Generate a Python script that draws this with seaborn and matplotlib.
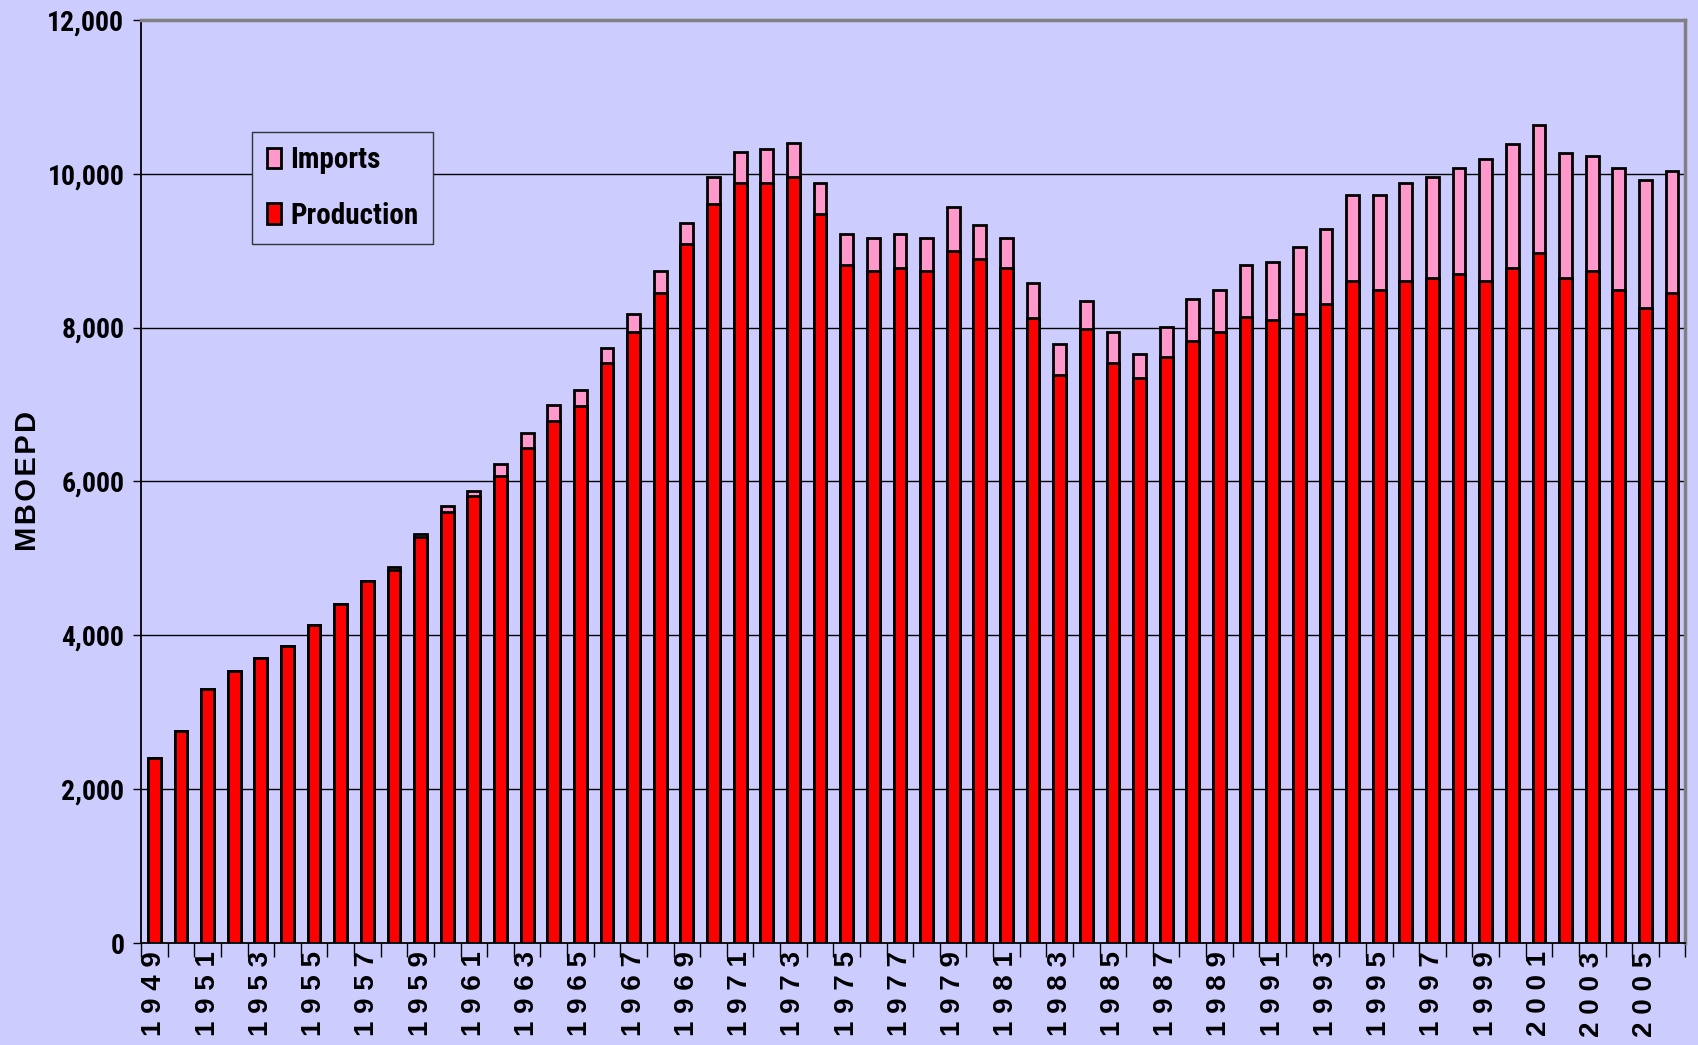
import numpy as np
import pandas as pd
import matplotlib
matplotlib.use('Agg')
import matplotlib.pyplot as plt
from matplotlib import font_manager
from matplotlib.patches import Patch
from matplotlib.patheffects import AbstractPathEffect
from matplotlib.transforms import Affine2D
import seaborn as sns

years = list(range(1949, 2007))

production = [2400, 2750, 3300, 3540, 3700, 3860, 4140, 4410, 4700, 4850,
              5280, 5600, 5810, 6070, 6430, 6790, 6980, 7540, 7940, 8450,
              9090, 9600, 9880, 9880, 9960, 9480, 8810, 8730, 8770, 8730,
              9000, 8890, 8770, 8130, 7380, 7980, 7540, 7340, 7620, 7820,
              7940, 8140, 8100, 8180, 8300, 8610, 8490, 8610, 8650, 8690,
              8610, 8770, 8970, 8650, 8730, 8490, 8260, 8450]

imports = [0, 0, 0, 0, 0, 0, 0, 0, 0, 40,
           40, 80, 70, 160, 200, 200, 210, 200, 230, 280,
           270, 360, 400, 440, 440, 400, 400, 440, 440, 440,
           570, 440, 400, 450, 400, 360, 400, 320, 390, 550,
           550, 670, 750, 870, 980, 1110, 1230, 1270, 1310, 1380,
           1580, 1620, 1660, 1620, 1500, 1580, 1660, 1580]

y_ticks = [0, 2000, 4000, 6000, 8000, 10000, 12000]

bg = '#CCCCFF'
red = '#FF0000'
pink = '#FF99CC'


# squeeze glyphs sideways to look like a narrow face, used only if no narrow font is found
class Squash(AbstractPathEffect):
    def __init__(self, sx=0.82, anchor='left'):
        super().__init__()
        self.sx = sx
        self.anchor = anchor

    def draw_path(self, renderer, gc, tpath, affine, rgbFace=None):
        v = tpath.vertices
        if len(v) == 0:
            return
        lo, hi = v[:, 0].min(), v[:, 0].max()
        x0 = {'left': lo, 'right': hi, 'center': (lo + hi) / 2}[self.anchor]
        t = Affine2D().translate(-x0, 0).scale(self.sx, 1).translate(x0, 0)
        renderer.draw_path(gc, t.transform_path(tpath), affine, rgbFace)


names = {f.name for f in font_manager.fontManager.ttflist}
narrow = None
for n in ['Liberation Sans Narrow', 'Arial Narrow', 'Roboto Condensed']:
    if n in names:
        narrow = n
        break


def narrow_text(t, anchor):
    if narrow:
        t.set_fontfamily(narrow)
    else:
        t.set_fontfamily(['Liberation Sans', 'DejaVu Sans'])
        t.set_path_effects([Squash(0.82, anchor)])


df = pd.DataFrame({'year': years, 'production': production, 'imports': imports})
df['total'] = df['production'] + df['imports']

sns.set_style('white')
plt.rcParams['font.family'] = ['Liberation Sans', 'DejaVu Sans']
plt.rcParams['text.color'] = 'black'
plt.rcParams['xtick.color'] = 'black'
plt.rcParams['ytick.color'] = 'black'

fig, ax = plt.subplots(figsize=(16.99, 10.45), dpi=100)
fig.patch.set_facecolor(bg)
ax.set_facecolor(bg)
fig.subplots_adjust(left=0.083, right=0.992, bottom=0.0976, top=0.981)

sns.barplot(data=df, x='year', y='total', color=pink, saturation=1, width=0.48,
            edgecolor='black', linewidth=2, ax=ax, zorder=3)
sns.barplot(data=df, x='year', y='production', color=red, saturation=1, width=0.48,
            edgecolor='black', linewidth=2, ax=ax, zorder=4)

ax.set_xlim(-0.5, len(years) - 0.5)
ax.set_ylim(0, 12000)

ax.set_yticks(y_ticks)
ax.set_yticklabels([f'{v:,}' for v in y_ticks], fontweight='bold', fontsize=20)
for t in ax.get_yticklabels():
    narrow_text(t, 'right')
ax.tick_params(axis='y', length=6, width=1, color='black', pad=6, left=True)

ax.set_xticks(range(0, len(years), 2))
ax.set_xticklabels([' '.join(str(y)) for y in years[::2]], rotation=90,
                   fontweight='bold', fontsize=20, color='black')
ax.tick_params(axis='x', which='major', length=0, pad=6)
ax.set_xticks(np.arange(-0.5, len(years), 1), minor=True)
ax.tick_params(axis='x', which='minor', length=10, width=1, color='black',
               bottom=True, direction='out')

for v in y_ticks[1:-1]:
    ax.axhline(v, color='black', linewidth=1, zorder=1)

ax.spines['left'].set_color('black')
ax.spines['bottom'].set_color('black')
ax.spines['left'].set_linewidth(1.3)
ax.spines['bottom'].set_linewidth(1.3)
ax.spines['top'].set_color('#808080')
ax.spines['right'].set_color('#808080')
ax.spines['top'].set_linewidth(2.5)
ax.spines['right'].set_linewidth(2.5)
for s in ax.spines.values():
    s.set_zorder(5)

ax.set_xlabel('')
ax.set_ylabel('\u200a'.join('MBOEPD'), fontweight='bold', fontsize=21, color='black')
ax.yaxis.set_label_coords(-0.064, 0.5)

handles = [Patch(facecolor=pink, edgecolor='black', linewidth=2, label='Imports'),
           Patch(facecolor=red, edgecolor='black', linewidth=2, label='Production')]
leg = ax.legend(handles=handles, loc='upper left', bbox_to_anchor=(0.072, 0.879),
                borderaxespad=0, frameon=True, fancybox=False, facecolor=bg,
                framealpha=1, edgecolor='#333333', handlelength=0.5,
                handleheight=0.7, handletextpad=0.3, labelspacing=0.95,
                borderpad=0.5, prop={'weight': 'bold', 'size': 21})
leg.get_frame().set_linewidth(1)
leg.set_zorder(6)
for t in leg.get_texts():
    narrow_text(t, 'left')

fig.savefig('out.png', dpi=100, facecolor=bg)
